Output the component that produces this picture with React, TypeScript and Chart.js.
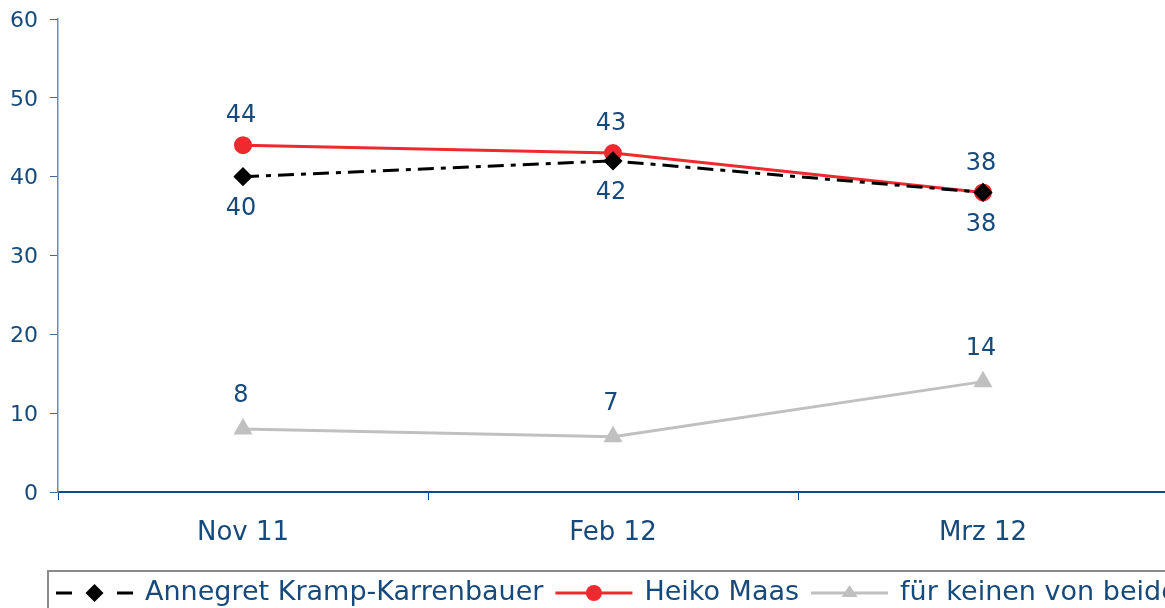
import React, { useEffect, useRef } from 'react';
import { Chart, registerables } from 'chart.js';

Chart.register(...registerables);

const categories = ['Nov 11', 'Feb 12', 'Mrz 12'];
const akkValues = [40, 42, 38];
const maasValues = [44, 43, 38];
const keinerValues = [8, 7, 14];
const yTicks = [0, 10, 20, 30, 40, 50, 60];
const seriesNames = ['Annegret Kramp-Karrenbauer', 'Heiko Maas', 'für keinen von beiden'];

const TEXT = '#174A7C';
const FONT = '"DejaVu Sans", Verdana, sans-serif';
const W = 1200;
const H = 608;
const AREA_LEFT = 58;
const AREA_RIGHT = 1168;
const AREA_TOP = 19;
const AREA_BOTTOM = 492;

function drawMarker(ctx: CanvasRenderingContext2D, style: string, x: number, y: number, r: number, color: string) {
  ctx.save();
  ctx.fillStyle = color;
  ctx.setLineDash([]);
  ctx.beginPath();
  if (style === 'rectRot') {
    ctx.moveTo(x, y - r);
    ctx.lineTo(x + r, y);
    ctx.lineTo(x, y + r);
    ctx.lineTo(x - r, y);
    ctx.closePath();
  } else if (style === 'triangle') {
    const h = r * 1.5;
    ctx.moveTo(x, y - h * 0.66);
    ctx.lineTo(x + r, y + h * 0.34);
    ctx.lineTo(x - r, y + h * 0.34);
    ctx.closePath();
  } else {
    ctx.arc(x, y, r, 0, Math.PI * 2);
  }
  ctx.fill();
  ctx.restore();
}

const dataLabelPlugin = {
  id: 'dataLabels',
  afterDatasetsDraw(chart: any) {
    const ctx = chart.ctx as CanvasRenderingContext2D;
    ctx.save();
    ctx.font = `24px ${FONT}`;
    ctx.fillStyle = TEXT;
    ctx.textAlign = 'center';
    ctx.textBaseline = 'middle';
    chart.data.datasets.forEach((ds: any, i: number) => {
      const meta = chart.getDatasetMeta(i);
      meta.data.forEach((pt: any, j: number) => {
        ctx.fillText(String(ds.data[j]), pt.x - 2, pt.y + ds.labelOffset);
      });
    });
    ctx.restore();
  },
};

const legendPlugin = {
  id: 'boxLegend',
  afterDraw(chart: any) {
    const ctx = chart.ctx as CanvasRenderingContext2D;
    ctx.save();
    ctx.strokeStyle = '#8A8A8A';
    ctx.lineWidth = 2;
    ctx.strokeRect(48, 571, 1180, 60);
    const y = 593;
    let x = 56;
    const lineLen = 77;
    ctx.font = `27px ${FONT}`;
    ctx.textBaseline = 'middle';
    ctx.textAlign = 'left';
    chart.data.datasets.forEach((ds: any) => {
      ctx.save();
      ctx.strokeStyle = ds.borderColor;
      ctx.lineWidth = ds.borderWidth;
      ctx.setLineDash(ds.legendDash || []);
      ctx.beginPath();
      ctx.moveTo(x, y);
      ctx.lineTo(x + lineLen, y);
      ctx.stroke();
      ctx.restore();
      drawMarker(ctx, ds.pointStyle, x + lineLen / 2, y, ds.legendRadius, ds.pointBackgroundColor);
      x += lineLen + 12;
      ctx.fillStyle = TEXT;
      ctx.fillText(ds.label, x, y);
      x += ctx.measureText(ds.label).width + 12;
    });
    ctx.restore();
  },
};

export default function App() {
  const ref = useRef<HTMLCanvasElement | null>(null);

  useEffect(() => {
    if (!ref.current) return;
    const chart = new Chart(ref.current, {
      type: 'line',
      data: {
        labels: categories,
        datasets: [
          {
            label: seriesNames[0],
            data: akkValues,
            borderColor: '#000000',
            borderWidth: 3,
            borderDash: [16, 7, 5, 7],
            legendDash: [16, 45],
            pointStyle: 'rectRot',
            pointRadius: 7.5,
            pointBackgroundColor: '#000000',
            pointBorderColor: '#000000',
            legendRadius: 9,
            labelOffset: 32,
            tension: 0,
          } as any,
          {
            label: seriesNames[1],
            data: maasValues,
            borderColor: '#EE2A2F',
            borderWidth: 3,
            pointStyle: 'circle',
            pointRadius: 7.5,
            pointBackgroundColor: '#EE2A2F',
            pointBorderColor: '#EE2A2F',
            legendRadius: 8,
            labelOffset: -29,
            tension: 0,
          } as any,
          {
            label: seriesNames[2],
            data: keinerValues,
            borderColor: '#C0C0C0',
            borderWidth: 3,
            pointStyle: 'triangle',
            pointRadius: 8,
            pointBackgroundColor: '#C0C0C0',
            pointBorderColor: '#C0C0C0',
            legendRadius: 8,
            labelOffset: -33,
            tension: 0,
          } as any,
        ],
      },
      options: {
        animation: false,
        responsive: false,
        devicePixelRatio: 1,
        layout: { padding: { top: AREA_TOP, right: W - AREA_RIGHT, bottom: 0, left: 0 } },
        plugins: {
          legend: { display: false },
          tooltip: { enabled: false },
        },
        scales: {
          x: {
            type: 'category',
            offset: true,
            grid: {
              offset: true,
              drawOnChartArea: false,
              drawTicks: true,
              tickLength: 8,
              color: '#0E4A86',
              lineWidth: 1,
            },
            border: { color: '#0E4A86', width: 2 },
            ticks: {
              color: TEXT,
              font: { family: FONT, size: 26 },
              padding: 18,
              maxRotation: 0,
              autoSkip: false,
            },
            afterFit: (s: any) => {
              s.height = H - AREA_BOTTOM;
              s.paddingLeft = 0;
              s.paddingRight = 0;
            },
          },
          y: {
            min: 0,
            max: 60,
            afterBuildTicks: (s: any) => {
              s.ticks = yTicks.map((v) => ({ value: v }));
            },
            grid: {
              drawOnChartArea: false,
              drawTicks: true,
              tickLength: 8,
              color: '#3F6A99',
            },
            border: { color: '#6B8DB5', width: 1.5 },
            ticks: {
              color: TEXT,
              font: { family: FONT, size: 22 },
              padding: 12,
              labelOffset: 2,
            },
            afterFit: (s: any) => {
              s.width = AREA_LEFT;
              s.paddingTop = 0;
              s.paddingBottom = 0;
            },
          },
        },
      } as any,
      plugins: [dataLabelPlugin, legendPlugin],
    });
    return () => chart.destroy();
  }, []);

  return (
    <div
      style={{
        position: 'fixed',
        left: 0,
        top: 0,
        width: 1165,
        height: 608,
        overflow: 'hidden',
        background: '#ffffff',
      }}
    >
      <canvas ref={ref} width={W} height={H} style={{ display: 'block' }} />
    </div>
  );
}
